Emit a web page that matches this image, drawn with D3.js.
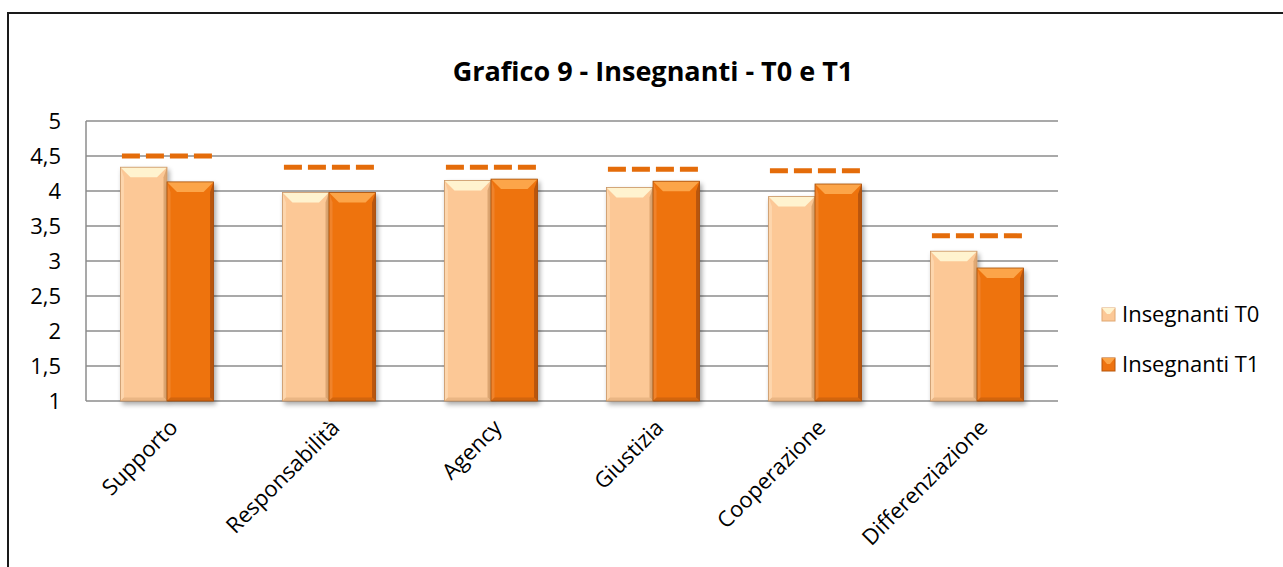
<!DOCTYPE html>
<html>
<head>
<meta charset="utf-8">
<script src="https://cdn.jsdelivr.net/npm/d3@7"></script>
<style>
  body { margin: 0; background: #fff; }
  svg { display: block; font-family: "Open Sans", "Noto Sans", sans-serif; }
</style>
</head>
<body>
<script>
// chart data
var categories = ["Supporto", "Responsabilità", "Agency", "Giustizia", "Cooperazione", "Differenziazione"];
var seriesNames = ["Insegnanti T0", "Insegnanti T1"];
var valuesT0 = [4.34, 3.98, 4.15, 4.05, 3.92, 3.14];
var valuesT1 = [4.13, 3.98, 4.17, 4.14, 4.10, 2.90];
var reference = [4.50, 4.34, 4.34, 4.31, 4.29, 3.36];
var yTicks = [1, 1.5, 2, 2.5, 3, 3.5, 4, 4.5, 5];

window.onload = drawChart();

function drawChart(){
    var width = 1283,
        height = 567;

    var svg = d3.select("body")
        .append("svg")
        .attr("width", width)
        .attr("height", height);

    var defs = svg.append("defs");
    var shadow = defs.append("filter").attr("id", "shadow")
        .attr("x", "-20%").attr("y", "-10%").attr("width", "150%").attr("height", "130%");
    shadow.append("feGaussianBlur").attr("in", "SourceAlpha").attr("stdDeviation", 2.5);
    shadow.append("feOffset").attr("dx", 2).attr("dy", 3).attr("result", "blur");
    shadow.append("feComponentTransfer").append("feFuncA").attr("type", "linear").attr("slope", 0.35);
    var merge = shadow.append("feMerge");
    merge.append("feMergeNode");
    merge.append("feMergeNode").attr("in", "SourceGraphic");

    //outer frame
    svg.append("rect")
        .attr("x", 8).attr("y", 13)
        .attr("width", width + 20).attr("height", height + 20)
        .attr("fill", "none")
        .attr("stroke", "#1a1a1a")
        .attr("stroke-width", 2);

    //title
    svg.append("text")
        .attr("x", 653).attr("y", 81)
        .attr("text-anchor", "middle")
        .attr("font-size", 27)
        .attr("font-weight", "bold")
        .attr("fill", "#000")
        .text("Grafico 9 - Insegnanti - T0 e T1");

    var plot = {left: 86, right: 1058, top: 121, bottom: 401};

    var y = d3.scaleLinear().domain([1, 5]).range([plot.bottom, plot.top]);

    var x0 = d3.scaleBand()
        .domain(categories)
        .range([plot.left, plot.right])
        .paddingInner(0.425)
        .paddingOuter(0.2125);

    var x1 = d3.scaleBand()
        .domain(seriesNames)
        .range([0, x0.bandwidth()]);

    //gridlines
    svg.append("g")
        .selectAll("line")
        .data(yTicks)
        .enter()
        .append("line")
        .attr("x1", plot.left).attr("x2", plot.right)
        .attr("y1", function(d){ return y(d); })
        .attr("y2", function(d){ return y(d); })
        .attr("stroke", "#8c8c8c")
        .attr("stroke-width", 1.5);

    svg.append("line")
        .attr("x1", plot.left).attr("x2", plot.left)
        .attr("y1", plot.top).attr("y2", plot.bottom)
        .attr("stroke", "#8c8c8c").attr("stroke-width", 1.5);

    //y axis labels
    var yAxis = d3.axisLeft(y)
        .tickValues(yTicks)
        .tickSize(0)
        .tickPadding(25)
        .tickFormat(function(d){ return String(d).replace(".", ","); });

    var yg = svg.append("g")
        .attr("transform", "translate(" + plot.left + ",0)")
        .call(yAxis);
    yg.select(".domain").remove();
    yg.selectAll("text")
        .attr("font-size", 22)
        .attr("font-family", "Open Sans, sans-serif")
        .attr("fill", "#000");

    //bars
    var colors = {
        "Insegnanti T0": {base: "#fcc896", top: "#fff3cf", left: "#fdd6ad", right: "#e0a873", bottom: "#eab684"},
        "Insegnanti T1": {base: "#ee7310", top: "#fca548", left: "#f0832a", right: "#b8560a", bottom: "#d2650d"}
    };

    var rows = categories.map(function(c, i){
        return {cat: c, vals: [
            {name: seriesNames[0], v: valuesT0[i]},
            {name: seriesNames[1], v: valuesT1[i]}
        ]};
    });

    var groups = svg.append("g").selectAll(".grp")
        .data(rows)
        .enter()
        .append("g")
        .attr("class", "grp")
        .attr("transform", function(d){ return "translate(" + x0(d.cat) + ",0)"; });

    var bars = groups.selectAll(".bar")
        .data(function(d){ return d.vals; })
        .enter()
        .append("g")
        .attr("class", "bar")
        .attr("filter", "url(#shadow)");

    bars.each(function(d){
        var g = d3.select(this);
        var bx = x1(d.name), bw = x1.bandwidth();
        var by = y(d.v), bh = y(1) - y(d.v);
        var c = colors[d.name];
        var b = 10;
        g.append("rect")
            .attr("x", bx).attr("y", by)
            .attr("width", bw).attr("height", bh)
            .attr("fill", c.base);
        //bevel edges
        g.append("polygon")
            .attr("points", [[bx, by], [bx + bw, by], [bx + bw - b, by + b], [bx + b, by + b]].join(" "))
            .attr("fill", c.top);
        g.append("polygon")
            .attr("points", [[bx, by], [bx + b * 0.35, by + b], [bx + b * 0.35, by + bh - b * 0.35], [bx, by + bh]].join(" "))
            .attr("fill", c.left);
        g.append("polygon")
            .attr("points", [[bx + bw, by], [bx + bw - b * 0.35, by + b], [bx + bw - b * 0.35, by + bh - b * 0.35], [bx + bw, by + bh]].join(" "))
            .attr("fill", c.right);
        g.append("polygon")
            .attr("points", [[bx, by + bh], [bx + b * 0.35, by + bh - b * 0.35], [bx + bw - b * 0.35, by + bh - b * 0.35], [bx + bw, by + bh]].join(" "))
            .attr("fill", c.bottom);
        g.append("rect")
            .attr("x", bx).attr("y", by)
            .attr("width", bw).attr("height", bh)
            .attr("fill", "none")
            .attr("stroke", d3.color(c.right).darker(0.3))
            .attr("stroke-width", 0.8);
    });

    //reference dashes
    svg.append("g").selectAll("line")
        .data(categories)
        .enter()
        .append("line")
        .attr("x1", function(d){ return x0(d) + 1.5; })
        .attr("x2", function(d){ return x0(d) + x0.bandwidth(); })
        .attr("y1", function(d, i){ return y(reference[i]); })
        .attr("y2", function(d, i){ return y(reference[i]); })
        .attr("stroke", "#e46c0a")
        .attr("stroke-width", 5)
        .attr("stroke-dasharray", "18,6");

    //category labels
    svg.append("g").selectAll("text")
        .data(categories)
        .enter()
        .append("text")
        .attr("text-anchor", "end")
        .attr("font-size", 22)
        .attr("fill", "#000")
        .attr("transform", function(d){
            var cx = x0(d) + x0.bandwidth() / 2 + 12;
            return "translate(" + cx + "," + (plot.bottom + 28) + ") rotate(-45)";
        })
        .text(function(d){ return d; });

    //legend
    var legend = svg.append("g").selectAll(".leg")
        .data(seriesNames)
        .enter()
        .append("g")
        .attr("class", "leg")
        .attr("transform", function(d, i){ return "translate(1102," + (314 + i * 50) + ")"; });

    legend.append("rect")
        .attr("x", 0).attr("y", -6)
        .attr("width", 13).attr("height", 13)
        .attr("fill", function(d){ return colors[d].base; })
        .attr("stroke", function(d){ return colors[d].right; })
        .attr("stroke-width", 1);
    legend.append("polygon")
        .attr("points", "0,-6 13,-6 8,0 5,0")
        .attr("fill", function(d){ return colors[d].top; });

    legend.append("text")
        .attr("x", 20).attr("y", 8)
        .attr("font-size", 22)
        .attr("fill", "#000")
        .text(function(d){ return d; });
}
</script>
</body>
</html>
